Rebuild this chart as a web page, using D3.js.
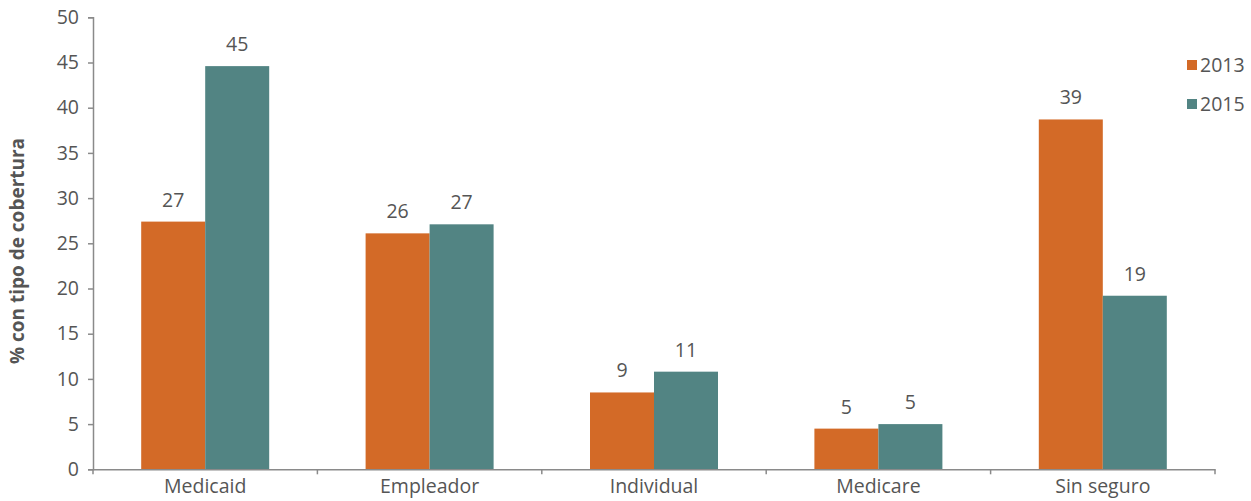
<!DOCTYPE html>
<html>
<head>
<meta charset="utf-8">
<script src="https://cdn.jsdelivr.net/npm/d3@7"></script>
<style>
  body { margin: 0; background: #fff; }
  text { font-family: "Open Sans", Lato, sans-serif; fill: #555; }
</style>
</head>
<body>
<div id="chart"></div>
<script>
var chart_width = 1251;
var chart_height = 501;

var categories = ['Medicaid', 'Empleador', 'Individual', 'Medicare', 'Sin seguro'];
var years = ['2013', '2015'];
var values_2013 = [27.4, 26.1, 8.5, 4.5, 38.7];
var values_2015 = [44.6, 27.1, 10.8, 5.0, 19.2];
var labels_2013 = ['27', '26', '9', '5', '39'];
var labels_2015 = ['45', '27', '11', '5', '19'];
var y_ticks = [0, 5, 10, 15, 20, 25, 30, 35, 40, 45, 50];
var colors = ['#D36A27', '#528483'];

var data = [];
categories.forEach((c, i) => {
    data.push({cat: c, year: '2013', v: values_2013[i], label: labels_2013[i]});
    data.push({cat: c, year: '2015', v: values_2015[i], label: labels_2015[i]});
});

var svg = d3.select('#chart')
            .append('svg')
            .attr('width', chart_width)
            .attr('height', chart_height);

// Scales
var x_scale = d3.scaleBand()
                .domain(categories)
                .range([93, 1215]);

var bw = x_scale.bandwidth();
var x_inner = d3.scaleBand()
                .domain(years)
                .range([bw / 2 - 64, bw / 2 + 64]);

var y_scale = d3.scaleLinear()
                .domain([0, 50])
                .range([469.3, 17.3]);

var color = d3.scaleOrdinal().domain(years).range(colors);

// Y axis
var y_axis = svg.append('g')
    .attr('transform', 'translate(93,0)')
    .call(d3.axisLeft(y_scale).tickValues(y_ticks).tickSize(5).tickPadding(9));
y_axis.select('.domain').attr('stroke', '#8a8a8a').attr('stroke-width', 1.5);
y_axis.selectAll('.tick line').attr('stroke', '#8a8a8a').attr('stroke-width', 1.5);
y_axis.selectAll('.tick text').style('font-size', '19.5px').attr('fill', '#555');

// Bars
svg.selectAll('rect.bar')
    .data(data)
    .enter()
    .append('rect')
    .attr('class', 'bar')
    .attr('x', (d) => x_scale(d.cat) + x_inner(d.year))
    .attr('y', (d) => y_scale(d.v))
    .attr('width', x_inner.bandwidth())
    .attr('height', (d) => y_scale(0) - y_scale(d.v))
    .attr('fill', (d) => color(d.year));

// Value labels
svg.selectAll('text.val')
    .data(data)
    .enter()
    .append('text')
    .attr('class', 'val')
    .text((d) => d.label)
    .attr('x', (d) => x_scale(d.cat) + x_inner(d.year) + x_inner.bandwidth() / 2)
    .attr('y', (d) => y_scale(d.v) - 15)
    .attr('text-anchor', 'middle')
    .style('font-size', '19.5px');

// X axis
var x_axis = svg.append('g')
    .attr('transform', 'translate(0,' + y_scale(0) + ')')
    .call(d3.axisBottom(x_scale).tickSize(0).tickPadding(10).tickSizeOuter(0));
x_axis.select('.domain').attr('stroke', '#8a8a8a').attr('stroke-width', 1.5);
x_axis.selectAll('.tick text').style('font-size', '19.5px').attr('fill', '#555');

// boundary ticks between categories
var bounds = categories.map((c) => x_scale(c)).concat([x_scale.range()[1]]);
x_axis.selectAll('line.bound')
    .data(bounds)
    .enter()
    .append('line')
    .attr('class', 'bound')
    .attr('x1', (d) => d)
    .attr('x2', (d) => d)
    .attr('y1', 0)
    .attr('y2', 5)
    .attr('stroke', '#8a8a8a')
    .attr('stroke-width', 1.5);

// Y title
svg.append('text')
    .attr('transform', 'translate(24,251) rotate(-90)')
    .attr('text-anchor', 'middle')
    .style('font-size', '19px')
    .style('font-weight', 'bold')
    .text('% con tipo de cobertura');

// Legend
var legend = svg.selectAll('g.legend')
    .data(years)
    .enter()
    .append('g')
    .attr('class', 'legend')
    .attr('transform', (d, i) => 'translate(1187,' + (60 + i * 39) + ')');

legend.append('rect')
    .attr('width', 10)
    .attr('height', 10)
    .attr('fill', (d) => color(d));

legend.append('text')
    .attr('x', 13)
    .attr('y', 12)
    .style('font-size', '19.5px')
    .text((d) => d);
</script>
</body>
</html>
